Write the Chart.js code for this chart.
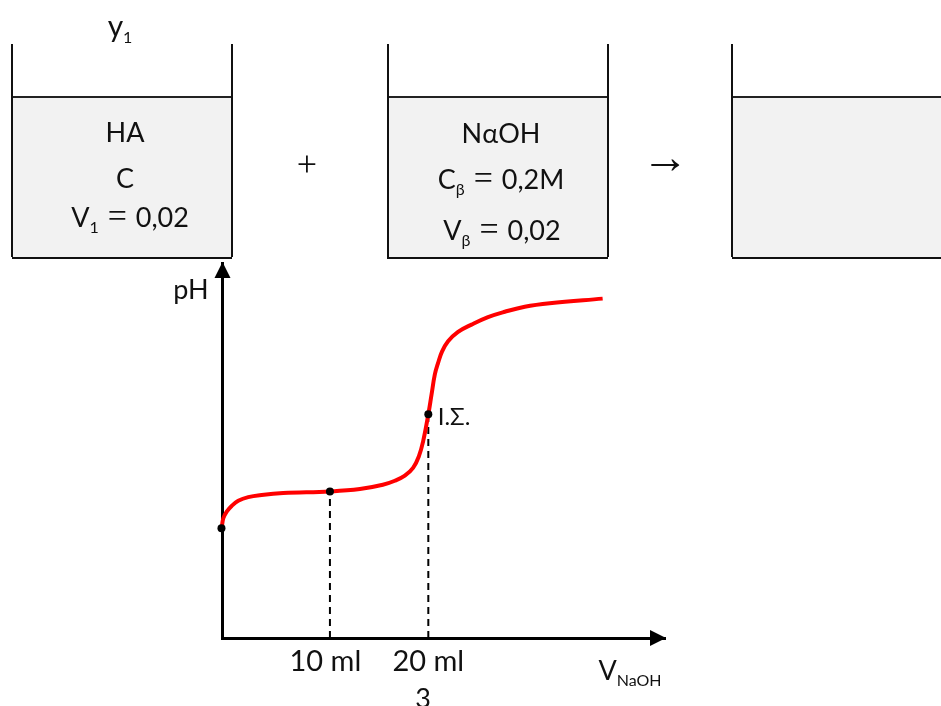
<!DOCTYPE html>
<html>
<head>
<meta charset="utf-8">
<title>pH</title>
<script src="https://cdn.jsdelivr.net/npm/chart.js@4"></script>
<style>
    html, body { margin: 0; padding: 0; background: #fff; }
    body { position: relative; width: 941px; height: 706px; overflow: hidden; font-family: Lato, sans-serif; color: #111; }
    canvas { position: absolute; left: 0; top: 0; }
    .wall { position: absolute; width: 2px; background: #111; top: 44px; height: 213px; }
    .liquid { position: absolute; top: 96px; height: 159px; background: #f2f2f2; border-top: 2px solid #222; border-bottom: 2px solid #111; }
    .t { position: absolute; transform: translate(-50%, -50%); white-space: nowrap; font-size: 27px; line-height: 1; }
    .t sub { font-size: 16px; vertical-align: baseline; position: relative; top: 6px; }
    .m { font-family: "Liberation Serif", serif; }
    .eq { font-family: "Liberation Serif", serif; font-size: 34px; line-height: 0; margin: 0 2px; }
</style>
</head>
<body>
<div class="liquid" style="left:12px;width:220px"></div>
<div class="wall" style="left:11px"></div>
<div class="wall" style="left:231px"></div>
<div class="liquid" style="left:387px;width:221px"></div>
<div class="wall" style="left:387px"></div>
<div class="wall" style="left:607px"></div>
<div class="liquid" style="left:732px;width:209px"></div>
<div class="wall" style="left:731px"></div>

<canvas id="chartTitration" width="941" height="706"></canvas>

<div class="t" style="left:120px;top:25px;font-size:30px">y<sub>1</sub></div>
<div class="t" style="left:125px;top:131px">HA</div>
<div class="t" style="left:125px;top:177px">C</div>
<div class="t" style="left:130px;top:216px">V<sub>1</sub> <span class="eq">=</span> 0,02</div>
<div class="t m" style="left:307px;top:164px;font-size:36px">+</div>
<div class="t" style="left:501px;top:132px">NαOH</div>
<div class="t" style="left:501px;top:178px">C<sub>β</sub> <span class="eq">=</span> 0,2M</div>
<div class="t" style="left:502px;top:229px">V<sub>β</sub> <span class="eq">=</span> 0,02</div>
<div class="t m" style="left:665px;top:157px;font-size:47px">→</div>
<div class="t" style="left:191px;top:288px">pH</div>
<div class="t" style="left:454px;top:416px;font-size:24px">I.Σ.</div>
<div class="t" style="left:630px;top:669px">V<sub>NaOH</sub></div>
<div class="t" style="left:423px;top:697px">3</div>

<script>
// titration curve
const volumeMl = [-0.08, 0.08, 0.41, 0.89, 1.53, 2.5, 3.81, 5.9, 10.44, 13.35, 15.58, 16.75, 17.72, 18.52, 19.08, 19.5, 20, 20.31, 20.63, 20.95, 21.34, 21.92, 22.89, 24.2, 25.8, 27.43, 29.37, 31.8, 36.94];
const phValues = [4.10, 4.47, 4.72, 4.93, 5.12, 5.26, 5.34, 5.41, 5.47, 5.56, 5.72, 5.87, 6.06, 6.35, 6.78, 7.35, 8.35, 9.08, 9.83, 10.27, 10.7, 11.08, 11.43, 11.7, 11.98, 12.18, 12.37, 12.5, 12.67];

// marked points: start, half equivalence, equivalence
const markerVolume = [-0.1, 10.44, 20];
const markerPh = [4.10, 5.47, 8.35];

const tickValues = [10, 20];
const tickLabels = ['10 ml', '20 ml'];

function toPoints(xs, ys) {
    return xs.map(function (x, i) {
        return {x: x, y: ys[i]};
    });
}

const arrowHeads = {
    id: 'arrowHeads',
    afterDraw: function (chart) {
        const ctx = chart.ctx;
        const area = chart.chartArea;
        ctx.save();
        ctx.fillStyle = '#000';
        ctx.beginPath();
        ctx.moveTo(area.left, area.top - 1);
        ctx.lineTo(area.left - 8, area.top + 15);
        ctx.lineTo(area.left + 8, area.top + 15);
        ctx.closePath();
        ctx.fill();
        ctx.beginPath();
        ctx.moveTo(area.right + 1, area.bottom);
        ctx.lineTo(area.right - 15, area.bottom - 8);
        ctx.lineTo(area.right - 15, area.bottom + 8);
        ctx.closePath();
        ctx.fill();
        ctx.restore();
    }
};

const ctxTitration = document.getElementById('chartTitration').getContext('2d');
new Chart(ctxTitration, {
    type: 'scatter',
    data: {
        datasets: [
            {
                label: 'markers',
                data: toPoints(markerVolume, markerPh),
                showLine: false,
                pointRadius: 4,
                pointBackgroundColor: '#000',
                pointBorderWidth: 0,
                clip: false,
                order: 0
            },
            {
                label: 'pH',
                data: toPoints(volumeMl, phValues),
                showLine: true,
                borderColor: '#ff0000',
                borderWidth: 4,
                tension: 0.4,
                pointRadius: 0,
                clip: false,
                order: 1
            },
            {
                label: 'drop 10',
                data: toPoints([markerVolume[1], markerVolume[1]], [0, markerPh[1]]),
                showLine: true,
                borderColor: '#000',
                borderWidth: 2,
                borderDash: [7, 5],
                pointRadius: 0,
                order: 2
            },
            {
                label: 'drop 20',
                data: toPoints([markerVolume[2], markerVolume[2]], [0, markerPh[2]]),
                showLine: true,
                borderColor: '#000',
                borderWidth: 2,
                borderDash: [7, 5],
                pointRadius: 0,
                order: 2
            }
        ]
    },
    options: {
        responsive: false,
        animation: false,
        layout: {padding: {left: 222.5, right: 276, top: 263, bottom: 0}},
        plugins: {legend: {display: false}, tooltip: {enabled: false}},
        scales: {
            x: {
                type: 'linear',
                min: 0,
                max: 43,
                afterFit: function (scale) {
                    scale.height = 68;
                },
                afterBuildTicks: function (scale) {
                    scale.ticks = tickValues.map(function (v) {
                        return {value: v};
                    });
                },
                grid: {display: false},
                border: {display: true, color: '#000', width: 3},
                ticks: {
                    autoSkip: false,
                    maxRotation: 0,
                    padding: -2,
                    color: '#111',
                    font: {family: 'Lato', size: 29},
                    callback: function (value) {
                        return tickLabels[tickValues.indexOf(value)];
                    }
                }
            },
            y: {
                type: 'linear',
                min: 0,
                max: 14,
                afterFit: function (scale) {
                    scale.width = 0;
                },
                grid: {display: false},
                border: {display: true, color: '#000', width: 3},
                ticks: {display: false}
            }
        }
    },
    plugins: [arrowHeads]
});
</script>
</body>
</html>
